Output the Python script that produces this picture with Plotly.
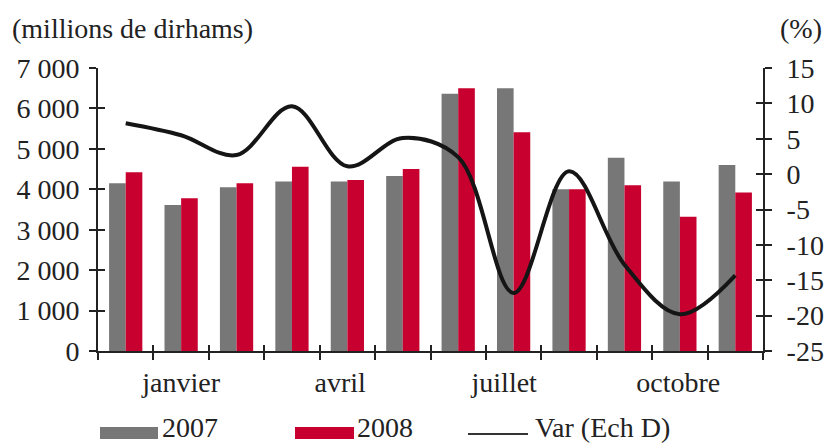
import plotly.graph_objects as go

# ---------------- data ----------------
months = list(range(12))  # month index (position on category axis)
val_2007 = [4150, 3610, 4050, 4190, 4190, 4330, 6360, 6500, 4000, 4780, 4190, 4600]
val_2008 = [4420, 3780, 4150, 4560, 4230, 4500, 6500, 5410, 4000, 4100, 3320, 3920]
var_pct = [7.2, 5.5, 2.7, 9.6, 1.1, 5.1, 2.4, -16.8, 0.4, -12.8, -19.8, -14.3]

x_label_pos = [1.0, 3.87, 6.83, 9.97]
x_label_text = ["janvier", "avril", "juillet", "octobre"]

left_tickvals = [0, 1000, 2000, 3000, 4000, 5000, 6000, 7000]
left_ticktext = ["0", "1 000", "2 000", "3 000", "4 000", "5 000", "6 000", "7 000"]
right_tickvals = [-25, -20, -15, -10, -5, 0, 5, 10, 15]
right_ticktext = ["-25", "-20", "-15", "-10", "-5", "0", "5", "10", "15"]
boundaries = [i - 0.5 for i in range(13)]

# ---------------- style ----------------
FONT = "Liberation Serif"
FS = 28
TXT = "#222222"
GRAY = "#777777"
RED = "#C8002F"
AX = "#222222"

W, H = 825, 443
L, R, T, B = 98, 62, 68, 92
PW, PH = W - L - R, H - T - B


def px(xp):
    return (xp - L) / PW


def py(yp):
    return (H - B - yp) / PH


fig = go.Figure()
fig.add_trace(go.Bar(x=months, y=val_2007, name="2007", marker=dict(color=GRAY, line=dict(width=0)),
                     showlegend=False))
fig.add_trace(go.Bar(x=months, y=val_2008, name="2008", marker=dict(color=RED, line=dict(width=0)),
                     showlegend=False))
fig.add_trace(go.Scatter(x=months, y=var_pct, name="Var (Ech D)", yaxis="y2", mode="lines",
                         line=dict(color="#151515", width=4, shape="spline", smoothing=1.0),
                         showlegend=False))
# empty traces so the overlay tick axes are drawn
fig.add_trace(go.Scatter(x=[None], y=[None], xaxis="x2", yaxis="y3", showlegend=False, hoverinfo="skip"))
fig.add_trace(go.Scatter(x=[None], y=[None], xaxis="x", yaxis="y4", showlegend=False, hoverinfo="skip"))

tickfont = dict(family=FONT, size=FS, color=TXT)

fig.update_layout(
    width=W, height=H,
    margin=dict(l=L, r=R, t=T, b=B, autoexpand=False),
    paper_bgcolor="white", plot_bgcolor="white",
    barmode="group", bargap=0.40, bargroupgap=0.0,
    font=dict(family=FONT, size=FS, color=TXT),
    xaxis=dict(range=[-0.5, 11.5], tickmode="array", tickvals=x_label_pos, ticktext=x_label_text,
               ticks="", showgrid=False, zeroline=False, showline=True, linecolor=AX, linewidth=2,
               tickfont=tickfont, ticklabelstandoff=5,
               minor=dict(tickmode="array", tickvals=boundaries, ticks="outside", ticklen=7,
                          tickwidth=2, tickcolor=AX, showgrid=False)),
    xaxis2=dict(range=[-0.5, 11.5], overlaying="x", anchor="y", side="bottom", tickmode="array",
                tickvals=boundaries, ticks="inside", ticklen=6, tickwidth=2, tickcolor=AX,
                showticklabels=False, showgrid=False, zeroline=False, showline=False),
    yaxis=dict(range=[0, 7000], tickmode="array", tickvals=left_tickvals, ticktext=left_ticktext,
               ticks="outside", ticklen=7, tickwidth=2, tickcolor=AX, showgrid=False, zeroline=False,
               showline=True, linecolor=AX, linewidth=2, tickfont=tickfont, ticklabelstandoff=4),
    yaxis2=dict(range=[-25, 15], overlaying="y", side="right", anchor="x", tickmode="array",
                tickvals=right_tickvals, ticktext=right_ticktext, ticks="outside", ticklen=7,
                tickwidth=2, tickcolor=AX, showgrid=False, zeroline=False, showline=True,
                linecolor=AX, linewidth=2, tickfont=tickfont, ticklabelstandoff=9),
    yaxis3=dict(range=[0, 7000], overlaying="y", side="left", anchor="x", tickmode="array",
                tickvals=left_tickvals, ticks="inside", ticklen=7, tickwidth=2, tickcolor=AX,
                showticklabels=False, showgrid=False, zeroline=False, showline=False),
    yaxis4=dict(range=[-25, 15], overlaying="y", side="right", anchor="x", tickmode="array",
                tickvals=right_tickvals, ticks="inside", ticklen=7, tickwidth=2, tickcolor=AX,
                showticklabels=False, showgrid=False, zeroline=False, showline=False),
)

ann = dict(xref="paper", yref="paper", showarrow=False, font=dict(family=FONT, size=FS, color=TXT),
           yanchor="middle", xanchor="left")
fig.add_annotation(text="(millions de dirhams)", x=px(10), y=py(28), **ann)
fig.add_annotation(text="(%)", x=px(778), y=py(28), **ann)

# custom legend
LY = 427
fig.add_shape(type="rect", xref="paper", yref="paper", x0=px(100), x1=px(158), y0=py(439), y1=py(427),
              fillcolor=GRAY, line=dict(width=0))
fig.add_annotation(text="2007", x=px(160), y=py(LY), **ann)
fig.add_shape(type="rect", xref="paper", yref="paper", x0=px(295), x1=px(354), y0=py(439), y1=py(427),
              fillcolor=RED, line=dict(width=0))
fig.add_annotation(text="2008", x=px(355), y=py(LY), **ann)
fig.add_shape(type="line", xref="paper", yref="paper", x0=px(468), x1=px(528), y0=py(434), y1=py(434),
              line=dict(color="#333333", width=2))
fig.add_annotation(text="Var (Ech D)", x=px(533), y=py(LY), **ann)

fig.write_html("out.html", config={"displayModeBar": False},
               post_script="document.body.style.margin='0';document.body.style.overflow='hidden';")
